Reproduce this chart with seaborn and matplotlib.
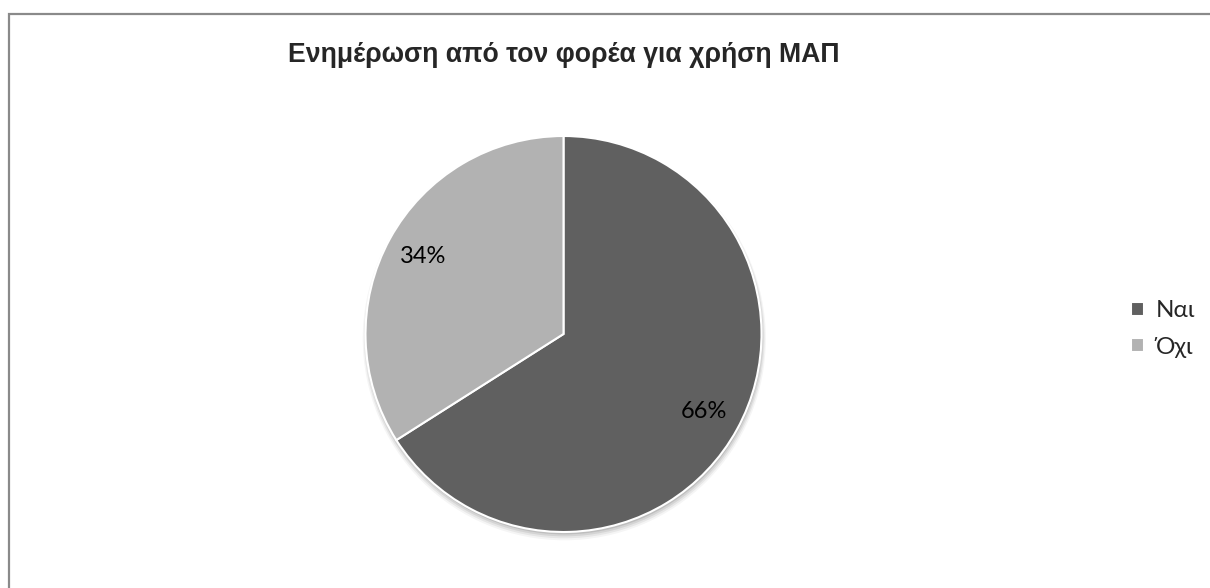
import matplotlib
matplotlib.use("Agg")
import matplotlib.pyplot as plt
from matplotlib.patches import Rectangle, Circle
import seaborn as sns

# Survey answers: informed by the employer about PPE use
categories = ["Ναι", "Όχι"]
shares = [66, 34]
slice_colors = ["#606060", "#b2b2b2"]
title = "Ενημέρωση από τον φορέα για χρήση ΜΑΠ"

sns.set_theme(style="white")
plt.rcParams["font.family"] = ["Lato", "DejaVu Sans"]

W, H = 1210, 588
fig = plt.figure(figsize=(W / 100, H / 100), dpi=100)
fig.patch.set_facecolor("white")

# Pie axes: centre (563.5, 334) px, radius 198 px
cx, cy, r = 563.5, 334.0, 198.0
pad = 1.1
side = 2 * r * pad
ax = fig.add_axes([(cx - side / 2) / W, (H - cy - side / 2) / H, side / W, side / H])

# soft drop shadow under the pie
for k, a in enumerate([0.10, 0.08, 0.06, 0.04]):
    ax.add_patch(Circle((0.004, -0.012 - 0.004 * k), 1.0 + 0.006 * k,
                        color="black", alpha=a, lw=0, zorder=0))

palette = sns.color_palette(slice_colors)
wedges, texts, autotexts = ax.pie(
    shares,
    colors=palette,
    startangle=90,
    counterclock=False,
    radius=1.0,
    autopct=lambda p: f"{p:.0f}%",
    pctdistance=0.81,
    wedgeprops=dict(edgecolor="white", linewidth=1.5),
    textprops=dict(family=["Lato", "DejaVu Sans"], fontsize=17, color="black"),
)
for w in wedges:
    w.set_zorder(2)
for t in autotexts:
    t.set_zorder(3)

ax.set_xlim(-pad, pad)
ax.set_ylim(-pad, pad)
ax.set_aspect("equal")
ax.axis("off")

fig.text(cx / W, (H - 55) / H, title, ha="center", va="center",
         fontsize=19.2, fontweight="bold", family=["Liberation Sans", "DejaVu Sans"])

fig.legend(wedges, categories, loc="center left",
           bbox_to_anchor=(1131 / W, (H - 329) / H),
           frameon=False, handlelength=0.55, handleheight=0.55,
           handletextpad=0.45, labelspacing=0.62, borderpad=0,
           borderaxespad=0,
           prop=dict(family=["Lato", "DejaVu Sans"], size=17.5))

# outer chart frame
fig.add_artist(Rectangle((9 / W, -0.1), 1.2, (H - 14) / H + 0.1,
                         transform=fig.transFigure, fill=False,
                         edgecolor="#8a8a8a", linewidth=1.6))

fig.savefig("out.png", dpi=100, facecolor="white")
